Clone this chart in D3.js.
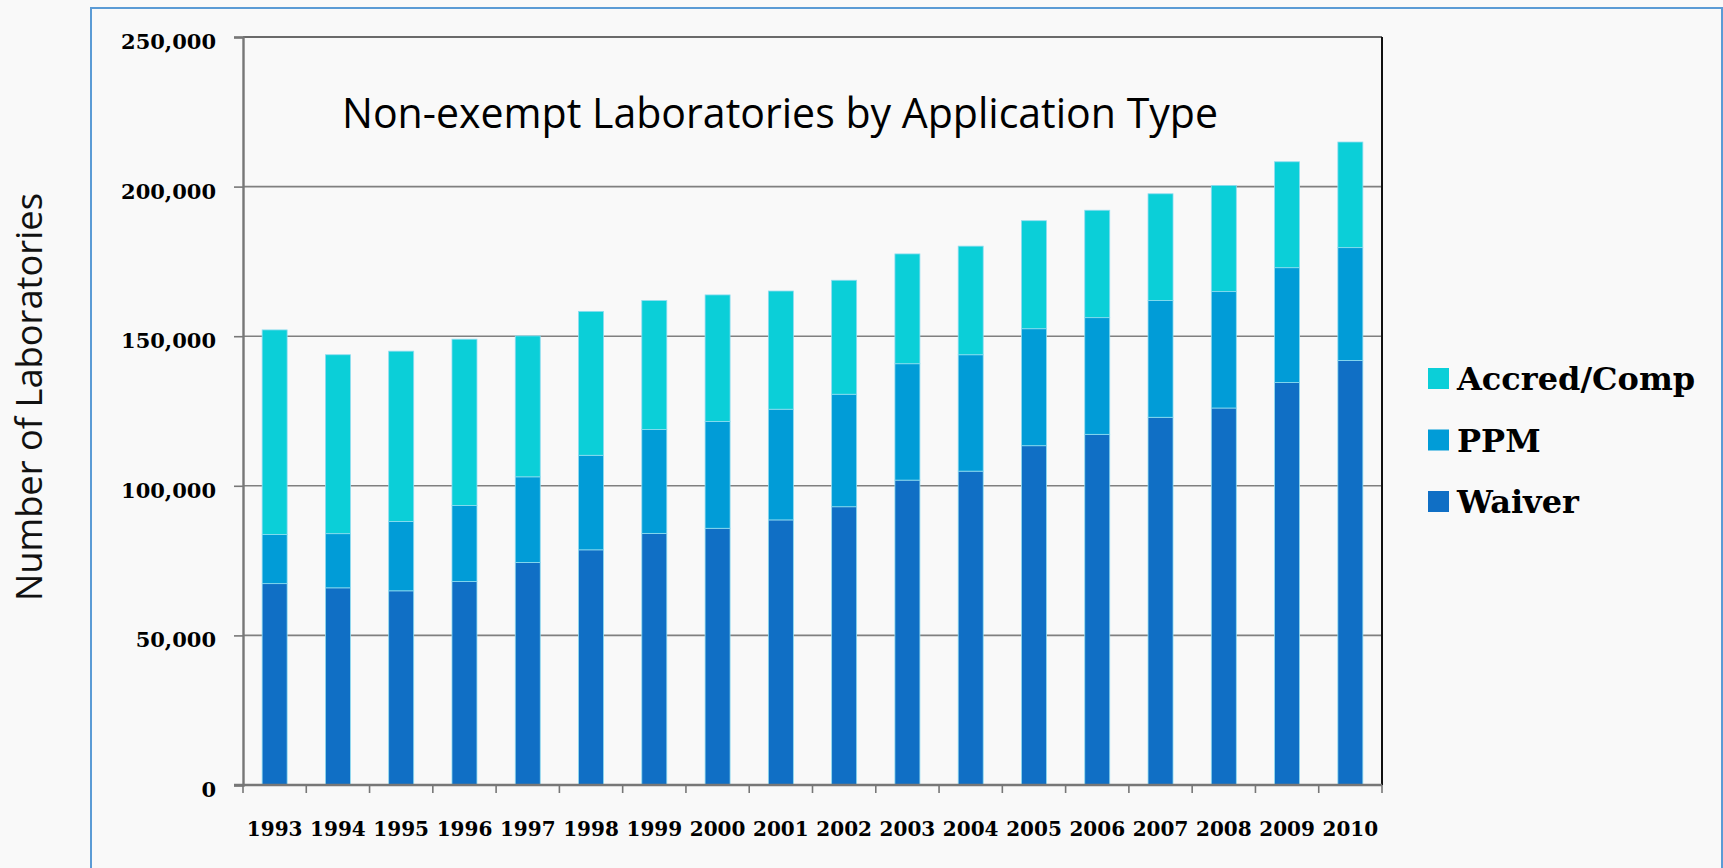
<!DOCTYPE html>
<html>
<head>
<meta charset="utf-8">
<script src="https://cdn.jsdelivr.net/npm/d3@7"></script>
<style>
  html, body { margin: 0; padding: 0; background: #f9f9f9; }
  svg { display: block; }
</style>
</head>
<body>
<svg id="chart" width="1723" height="868"></svg>
<script>
// Data (number of laboratories per year)
var years = ["1993", "1994", "1995", "1996", "1997", "1998", "1999", "2000", "2001",
             "2002", "2003", "2004", "2005", "2006", "2007", "2008", "2009", "2010"];
var waiver = [67300, 65900, 64900, 68000, 74400, 78600, 84100, 85800, 88600,
              93000, 101900, 104900, 113400, 117200, 122900, 126000, 134500, 141900];
var ppm = [16400, 18100, 23200, 25400, 28600, 31600, 34700, 35700, 37000,
           37600, 38900, 38900, 39100, 39000, 39000, 38900, 38400, 37700];
var accred = [68400, 59800, 56900, 55600, 47100, 48100, 43100, 42300, 39500,
              38100, 36700, 36300, 36100, 35900, 35700, 35500, 35400, 35300];
var seriesNames = ["Waiver", "PPM", "Accred/Comp"];
var seriesColors = ["#106fc5", "#019cd7", "#0bcfd8"];
var yTicks = [0, 50000, 100000, 150000, 200000, 250000];

function renderChart(target) {
  var svg = d3.select(target);
  var plot = {left: 243, right: 1382, top: 37, bottom: 785};

  // outer slide frame
  svg.append("rect")
    .attr("x", 91).attr("y", 8)
    .attr("width", 1631).attr("height", 900)
    .attr("fill", "none")
    .attr("stroke", "#5b9bd5")
    .attr("stroke-width", 2);

  var x = d3.scaleBand()
    .domain(years)
    .range([plot.left, plot.right])
    .paddingInner(0.605)
    .paddingOuter(0.3025);
  var y = d3.scaleLinear()
    .domain([0, 250000])
    .range([plot.bottom, plot.top]);

  // build rows for the stack
  var rows = years.map(function(yr, i) {
    return {year: yr, "Waiver": waiver[i], "PPM": ppm[i], "Accred/Comp": accred[i]};
  });
  var stacked = d3.stack().keys(seriesNames)(rows);

  // gridlines
  svg.append("g")
    .selectAll("line")
    .data(yTicks.slice(1))
    .enter().append("line")
      .attr("x1", plot.left).attr("x2", plot.right)
      .attr("y1", function(d) { return y(d); })
      .attr("y2", function(d) { return y(d); })
      .attr("stroke", function(d) { return d === 250000 ? "#3a3a3a" : "#808080"; })
      .attr("stroke-width", 1.6);

  // right border of the plot area
  svg.append("line")
    .attr("x1", plot.right).attr("x2", plot.right)
    .attr("y1", plot.top).attr("y2", plot.bottom)
    .attr("stroke", "#111")
    .attr("stroke-width", 2);

  // bars
  svg.append("g")
    .selectAll("g")
    .data(stacked)
    .enter().append("g")
      .attr("fill", function(d, i) { return seriesColors[i]; })
    .selectAll("rect")
    .data(function(d) { return d; })
    .enter().append("rect")
      .attr("x", function(d) { return x(d.data.year); })
      .attr("width", x.bandwidth())
      .attr("y", function(d) { return y(d[1]); })
      .attr("height", function(d) { return y(d[0]) - y(d[1]); })
      .attr("stroke", "#8fdcf0")
      .attr("stroke-width", 0.8);

  // Y axis
  var yAxis = svg.append("g")
    .attr("transform", "translate(" + plot.left + ",0)")
    .call(d3.axisLeft(y).tickValues(yTicks).tickFormat(d3.format(",")).tickSize(9).tickPadding(18));
  yAxis.select(".domain").attr("stroke", "#777").attr("stroke-width", 2.4);
  yAxis.selectAll(".tick line").attr("stroke", "#777").attr("stroke-width", 1.6);
  yAxis.selectAll("text")
    .attr("dy", "0.55em")
    .attr("font-family", "'DejaVu Serif', serif")
    .attr("font-weight", "bold")
    .attr("font-size", 21)
    .attr("fill", "#000");

  // X axis: labels at band centres, ticks on category boundaries
  var xAxis = svg.append("g")
    .attr("transform", "translate(0," + plot.bottom + ")")
    .call(d3.axisBottom(x).tickSize(0).tickPadding(37));
  xAxis.select(".domain").remove();
  xAxis.selectAll("text")
    .attr("font-family", "'DejaVu Serif', serif")
    .attr("font-weight", "bold")
    .attr("font-size", 20)
    .attr("fill", "#000");
  svg.append("line")
    .attr("x1", plot.left - 9).attr("x2", plot.right)
    .attr("y1", plot.bottom).attr("y2", plot.bottom)
    .attr("stroke", "#777").attr("stroke-width", 2.4);
  svg.append("g")
    .selectAll("line")
    .data(d3.range(years.length + 1))
    .enter().append("line")
      .attr("x1", function(i) { return plot.left + i * x.step(); })
      .attr("x2", function(i) { return plot.left + i * x.step(); })
      .attr("y1", plot.bottom).attr("y2", plot.bottom + 8)
      .attr("stroke", "#777").attr("stroke-width", 1.6);

  // title
  svg.append("text")
    .attr("x", 780).attr("y", 128)
    .attr("text-anchor", "middle")
    .attr("font-family", "'Open Sans', sans-serif")
    .attr("font-size", 42)
    .attr("textLength", 876)
    .attr("lengthAdjust", "spacingAndGlyphs")
    .attr("fill", "#000")
    .text("Non-exempt Laboratories by Application Type");

  // y title
  svg.append("text")
    .attr("transform", "translate(42, 397) rotate(-90)")
    .attr("text-anchor", "middle")
    .attr("font-family", "'Open Sans', sans-serif")
    .attr("font-size", 37)
    .attr("textLength", 408)
    .attr("lengthAdjust", "spacingAndGlyphs")
    .attr("fill", "#111")
    .text("Number of Laboratories");

  // legend, top entry is Accred/Comp
  var legendOrder = seriesNames.slice().reverse();
  var legend = svg.append("g")
    .selectAll("g")
    .data(legendOrder)
    .enter().append("g")
      .attr("transform", function(d, i) { return "translate(1428," + (368 + i * 61.5) + ")"; });
  legend.append("rect")
    .attr("width", 21).attr("height", 21)
    .attr("fill", function(d) { return seriesColors[seriesNames.indexOf(d)]; });
  legend.append("text")
    .attr("x", 29).attr("y", 22)
    .attr("font-family", "'DejaVu Serif', serif")
    .attr("font-weight", "bold")
    .attr("font-size", 32)
    .attr("fill", "#000")
    .text(function(d) { return d; });
}

renderChart("#chart");
</script>
</body>
</html>
